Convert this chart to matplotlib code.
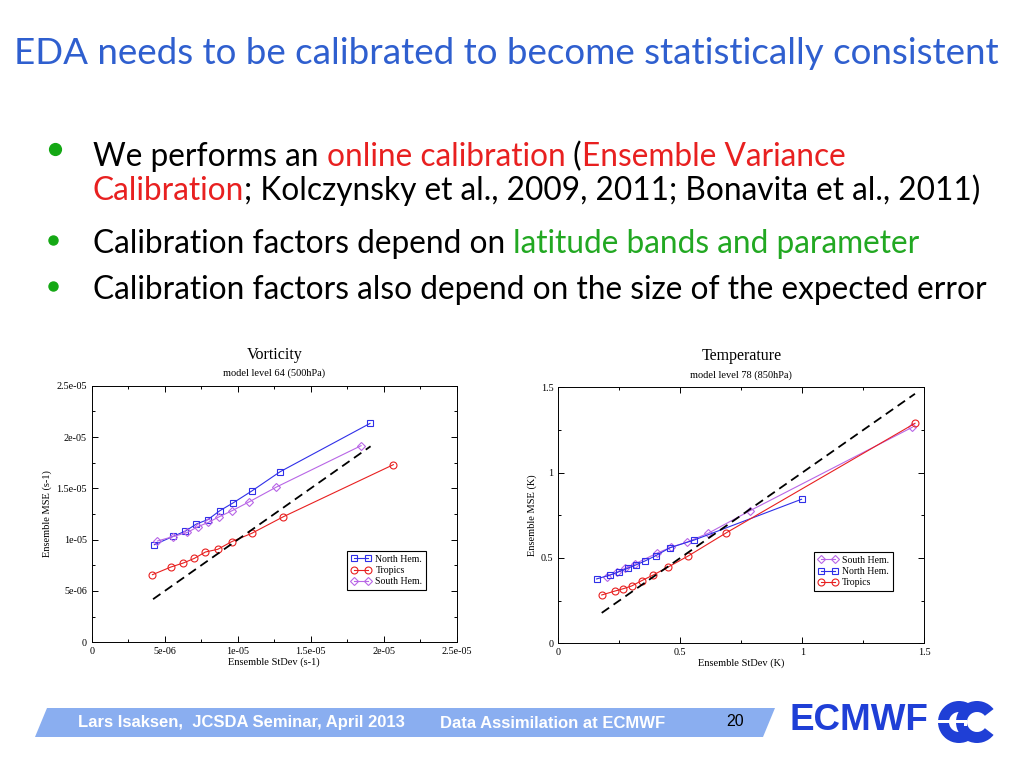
import numpy as np
import matplotlib
matplotlib.use('Agg')
import matplotlib.pyplot as plt
from matplotlib.patches import Polygon, Wedge, Rectangle
from matplotlib.ticker import MultipleLocator, FuncFormatter

# Данные: Vorticity (левый график), единицы 1e-5
vort_nh_x = [0.429, 0.557, 0.642, 0.717, 0.795, 0.877, 0.970, 1.096, 1.290, 1.906]
vort_nh_y = [0.951, 1.032, 1.084, 1.153, 1.195, 1.282, 1.360, 1.474, 1.662, 2.133]
vort_tr_x = [0.416, 0.543, 0.628, 0.703, 0.779, 0.863, 0.959, 1.096, 1.313, 2.066]
vort_tr_y = [0.659, 0.734, 0.773, 0.818, 0.880, 0.906, 0.981, 1.062, 1.224, 1.731]
vort_sh_x = [0.450, 0.555, 0.655, 0.728, 0.799, 0.874, 0.961, 1.080, 1.265, 1.845]
vort_sh_y = [0.987, 1.029, 1.071, 1.127, 1.169, 1.224, 1.282, 1.370, 1.513, 1.916]
vort_diag = [0.42, 1.91]

# Данные: Temperature (правый график), K
temp_sh_x = [0.198, 0.240, 0.273, 0.314, 0.403, 0.464, 0.526, 0.615, 0.786, 1.451]
temp_sh_y = [0.391, 0.415, 0.439, 0.465, 0.527, 0.564, 0.592, 0.645, 0.777, 1.266]
temp_nh_x = [0.157, 0.212, 0.250, 0.284, 0.318, 0.355, 0.399, 0.458, 0.557, 0.997]
temp_nh_y = [0.377, 0.400, 0.420, 0.439, 0.459, 0.482, 0.513, 0.560, 0.605, 0.844]
temp_tr_x = [0.178, 0.232, 0.267, 0.301, 0.342, 0.389, 0.448, 0.533, 0.687, 1.462]
temp_tr_y = [0.283, 0.306, 0.320, 0.336, 0.367, 0.400, 0.445, 0.512, 0.646, 1.289]
temp_diag = [0.178, 1.462]

BLUE = '#2f2fe8'
RED = '#e82020'
PURPLE = '#b866e6'
LOGO = '#1f3fd6'
SERIF = 'Liberation Serif'

fig = plt.figure(figsize=(10.24, 7.68), dpi=100)
bg = fig.add_axes([0, 0, 1, 1])
bg.set_xlim(0, 1024)
bg.set_ylim(768, 0)
bg.axis('off')
renderer = fig.canvas.get_renderer()

# Заголовок слайда
bg.text(14, 53, 'EDA needs to be calibrated to become statistically consistent',
        color='#2f5fcf', fontsize=26.5, family='Lato', va='center')


def colored_line(x, y, parts, size=22.8):
    # строка из кусков разного цвета
    for txt, col in parts:
        t = bg.text(x, y, txt, color=col, fontsize=size, family='Lato', va='baseline')
        x += t.get_window_extent(renderer).width


bg.plot([55], [149], 'o', color='#14a814', markersize=8.5)
bg.plot([53, 53], [240, 286], 'o', color='#14a814', markersize=6.5, linestyle='none')

colored_line(93, 166, [('We performs an ', 'black'), ('online calibration', RED),
                       (' (', 'black'), ('Ensemble Variance', RED)])
colored_line(93, 200, [('Calibration', RED),
                       ('; Kolczynsky et al., 2009, 2011; Bonavita et al., 2011)', 'black')])
colored_line(93, 253, [('Calibration factors depend on ', 'black'),
                       ('latitude bands and parameter', '#22a822')])
colored_line(93, 299, [('Calibration factors also depend on the size of the expected error', 'black')])

# Нижняя полоса
bg.add_patch(Polygon([(35, 737), (47, 708), (775, 708), (763, 737)], closed=True,
                     facecolor='#8aaef0', edgecolor='none'))
bg.text(78, 723, 'Lars Isaksen,  JCSDA Seminar, April 2013', color='white',
        fontsize=12, weight='bold', family='Liberation Sans', va='center')
bg.text(440, 723, 'Data Assimilation at ECMWF', color='white',
        fontsize=12, weight='bold', family='Liberation Sans', va='center')
bg.text(726, 722, '20', color='black', fontsize=11.5, family='Liberation Sans', va='center')

# Логотип ECMWF
bg.text(789, 721, 'ECMWF', color=LOGO, fontsize=26.5, weight='bold',
        family='Liberation Sans', va='center')
bg.add_patch(Wedge((959, 722), 21, 38, 322, width=11, facecolor=LOGO))
bg.add_patch(Wedge((977, 722), 21, 38, 322, width=11, facecolor=LOGO))
bg.add_patch(Rectangle((936, 720), 30, 3, facecolor='white', zorder=5))
bg.add_patch(Rectangle((964, 720), 3, 6, facecolor='white', zorder=5))


def sci(v):
    if abs(v) < 1e-12:
        return '0'
    m, e = ('%.1e' % v).split('e')
    m = m.rstrip('0').rstrip('.')
    return '%se%s%02d' % (m, e[0], abs(int(e)))


def style_axes(ax, major, minor, fmt):
    ax.xaxis.set_major_locator(MultipleLocator(major))
    ax.xaxis.set_minor_locator(MultipleLocator(minor))
    ax.yaxis.set_major_locator(MultipleLocator(major))
    ax.yaxis.set_minor_locator(MultipleLocator(minor))
    ax.xaxis.set_major_formatter(FuncFormatter(fmt))
    ax.yaxis.set_major_formatter(FuncFormatter(fmt))
    ax.tick_params(which='both', direction='in', top=True, right=True,
                   labelsize=7.3, width=0.7)
    ax.tick_params(which='major', length=4)
    ax.tick_params(which='minor', length=2)
    for lab in ax.get_xticklabels() + ax.get_yticklabels():
        lab.set_family(SERIF)
    for s in ax.spines.values():
        s.set_linewidth(0.7)


mk = dict(markersize=5, markerfacecolor='none', linewidth=0.8, markeredgewidth=0.8)
mkd = dict(markersize=4.5, markerfacecolor='none', linewidth=0.8, markeredgewidth=0.8)
leg_kw = dict(loc='upper left', borderaxespad=0, numpoints=2, handlelength=2.0,
              fancybox=False, framealpha=1, edgecolor='black',
              prop={'family': SERIF, 'size': 7}, borderpad=0.4, labelspacing=0.25,
              handletextpad=0.5)

# Левый график: Vorticity
ax1 = fig.add_axes([0.0896, 0.1637, 0.3564, 0.334])
sc = 1e-5
ax1.plot(np.array(vort_nh_x) * sc, np.array(vort_nh_y) * sc, 's-', color=BLUE, label='North Hem.', **mk)
ax1.plot(np.array(vort_tr_x) * sc, np.array(vort_tr_y) * sc, 'o-', color=RED, label='Tropics', **mk)
ax1.plot(np.array(vort_sh_x) * sc, np.array(vort_sh_y) * sc, 'D-', color=PURPLE, label='South Hem.', **mkd)
ax1.plot(np.array(vort_diag) * sc, np.array(vort_diag) * sc, '--', color='black', linewidth=1.3, dashes=(5, 3))
ax1.set_xlim(0, 2.5e-5)
ax1.set_ylim(0, 2.5e-5)
style_axes(ax1, 5e-6, 2.5e-6, lambda v, p: sci(v))
ax1.set_xlabel('Ensemble StDev (s-1)', family=SERIF, fontsize=7.5, labelpad=1)
ax1.set_ylabel('Ensemble MSE (s-1)', family=SERIF, fontsize=7.5, labelpad=3)
fig.text(0.268, 1 - 355 / 768, 'Vorticity', family=SERIF, fontsize=11.5, ha='center', va='center')
fig.text(0.268, 1 - 373 / 768, 'model level 64 (500hPa)', family=SERIF, fontsize=7.5, ha='center', va='center')
leg1 = ax1.legend(bbox_to_anchor=(0.70, 0.357), **leg_kw)
leg1.get_frame().set_linewidth(0.8)

# Правый график: Temperature
ax2 = fig.add_axes([0.5452, 0.1624, 0.3574, 0.3333])
ax2.plot(temp_sh_x, temp_sh_y, 'D-', color=PURPLE, label='South Hem.', **mkd)
ax2.plot(temp_nh_x, temp_nh_y, 's-', color=BLUE, label='North Hem.', **mk)
ax2.plot(temp_tr_x, temp_tr_y, 'o-', color=RED, label='Tropics', **mk)
ax2.plot(temp_diag, temp_diag, '--', color='black', linewidth=1.3, dashes=(5, 3))
ax2.set_xlim(0, 1.5)
ax2.set_ylim(0, 1.5)
style_axes(ax2, 0.5, 0.25, lambda v, p: '%g' % v)
ax2.set_xlabel('Ensemble StDev (K)', family=SERIF, fontsize=7.5, labelpad=1)
ax2.set_ylabel('Ensemble MSE (K)', family=SERIF, fontsize=7.5, labelpad=3)
fig.text(0.7239, 1 - 356 / 768, 'Temperature', family=SERIF, fontsize=11.5, ha='center', va='center')
fig.text(0.7239, 1 - 375 / 768, 'model level 78 (850hPa)', family=SERIF, fontsize=7.5, ha='center', va='center')
leg2 = ax2.legend(bbox_to_anchor=(0.699, 0.358), **leg_kw)
leg2.get_frame().set_linewidth(0.8)

fig.savefig('out.png', dpi=100)
